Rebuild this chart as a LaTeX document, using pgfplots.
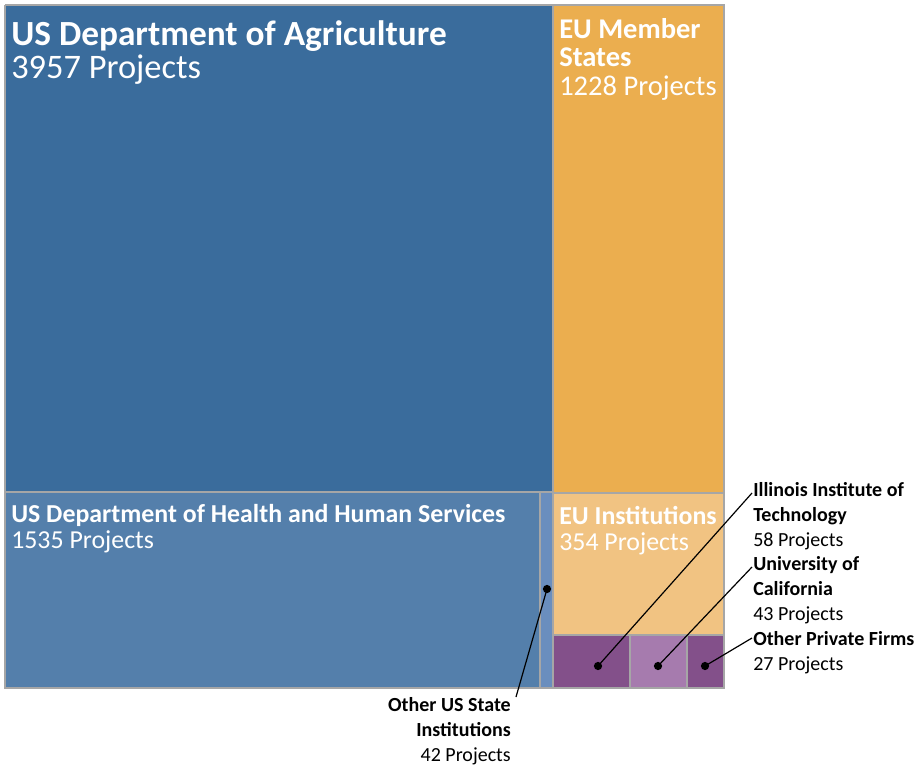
\documentclass[border=0pt]{standalone}
\usepackage{pgfplots}
\pgfplotsset{compat=1.18}
\usepackage{fontspec}
\setmainfont{Carlito}
\definecolor{usda}{RGB}{58,108,156}
\definecolor{hhs}{RGB}{84,127,171}
\definecolor{ousi}{RGB}{106,142,190}
\definecolor{eums}{RGB}{235,174,79}
\definecolor{euin}{RGB}{241,195,130}
\definecolor{iit}{RGB}{131,80,138}
\definecolor{uc}{RGB}{166,123,174}
\definecolor{opf}{RGB}{131,80,138}
\definecolor{bord}{RGB}{166,166,166}
\begin{document}
\begin{tikzpicture}
\begin{axis}[
  scale only axis, width=690.75pt, height=575.25pt,
  xmin=0, xmax=921, ymin=0, ymax=767, y dir=reverse,
  hide axis, clip=false,
  every axis plot/.append style={line join=miter},
]
% invisible frame to fix the picture size
\addplot[draw=none] coordinates {(0,0) (921,0) (921,767) (0,767) (0,0)};
% rectangles (x1,y1)-(x2,y2) in pixel space
\addplot[fill=usda, draw=bord, line width=1.1pt] coordinates {(5,5) (553,5) (553,492) (5,492) (5,5)};
\addplot[fill=eums, draw=bord, line width=1.1pt] coordinates {(553,5) (724,5) (724,493) (553,493) (553,5)};
\addplot[fill=hhs, draw=bord, line width=1.1pt] coordinates {(5,492) (540,492) (540,688) (5,688) (5,492)};
\addplot[fill=ousi, draw=bord, line width=1.1pt] coordinates {(540,492) (553,492) (553,688) (540,688) (540,492)};
\addplot[fill=euin, draw=bord, line width=1.1pt] coordinates {(553,493) (724,493) (724,635) (553,635) (553,493)};
\addplot[fill=iit, draw=bord, line width=1.1pt] coordinates {(553,635) (630,635) (630,688) (553,688) (553,635)};
\addplot[fill=uc, draw=bord, line width=1.1pt] coordinates {(630,635) (687,635) (687,688) (630,688) (630,635)};
\addplot[fill=opf, draw=bord, line width=1.1pt] coordinates {(687,635) (724,635) (724,688) (687,688) (687,635)};
% leader lines with dots
\addplot[black, line width=0.9pt, mark=*, mark size=2.6pt, mark indices={1}] coordinates {(547,589) (516,697)};
\addplot[black, line width=0.9pt, mark=*, mark size=2.6pt, mark indices={1}] coordinates {(598,666) (752,493)};
\addplot[black, line width=0.9pt, mark=*, mark size=2.6pt, mark indices={1}] coordinates {(658,666) (752,567)};
\addplot[black, line width=0.9pt, mark=*, mark size=2.6pt, mark indices={1}] coordinates {(705,666) (752,638)};
% labels inside
\node[anchor=base west, text=white, inner sep=0pt, font=\fontsize{26.5}{30}\selectfont\bfseries] at (axis cs:11,46) {US Department of Agriculture};
\node[anchor=base west, text=white, inner sep=0pt, font=\fontsize{25.8}{30}\selectfont] at (axis cs:11,79) {3957 Projects};
\node[anchor=base west, text=white, inner sep=0pt, font=\fontsize{21.4}{25}\selectfont\bfseries] at (axis cs:559,39) {EU Member};
\node[anchor=base west, text=white, inner sep=0pt, font=\fontsize{21.4}{25}\selectfont\bfseries] at (axis cs:559,67) {States};
\node[anchor=base west, text=white, inner sep=0pt, font=\fontsize{21.4}{25}\selectfont] at (axis cs:559,95) {1228 Projects};
\node[anchor=base west, text=white, inner sep=0pt, font=\fontsize{19.4}{23}\selectfont\bfseries] at (axis cs:11,522) {US Department of Health and Human Services};
\node[anchor=base west, text=white, inner sep=0pt, font=\fontsize{19.4}{23}\selectfont] at (axis cs:11,548) {1535 Projects};
\node[anchor=base west, text=white, inner sep=0pt, font=\fontsize{19.4}{23}\selectfont\bfseries] at (axis cs:559,524) {EU Institutions};
\node[anchor=base west, text=white, inner sep=0pt, font=\fontsize{19.4}{23}\selectfont] at (axis cs:559,550) {354 Projects};
% outside labels
\node[anchor=base west, inner sep=0pt, font=\fontsize{15}{18}\selectfont\bfseries] at (axis cs:753,496) {Illinois Institute of};
\node[anchor=base west, inner sep=0pt, font=\fontsize{15}{18}\selectfont\bfseries] at (axis cs:753,521) {Technology};
\node[anchor=base west, inner sep=0pt, font=\fontsize{15}{18}\selectfont] at (axis cs:753,546) {58 Projects};
\node[anchor=base west, inner sep=0pt, font=\fontsize{15}{18}\selectfont\bfseries] at (axis cs:753,570) {University of};
\node[anchor=base west, inner sep=0pt, font=\fontsize{15}{18}\selectfont\bfseries] at (axis cs:753,595) {California};
\node[anchor=base west, inner sep=0pt, font=\fontsize{15}{18}\selectfont] at (axis cs:753,620) {43 Projects};
\node[anchor=base west, inner sep=0pt, font=\fontsize{15}{18}\selectfont\bfseries] at (axis cs:753,645) {Other Private Firms};
\node[anchor=base west, inner sep=0pt, font=\fontsize{15}{18}\selectfont] at (axis cs:753,670) {27 Projects};
\node[anchor=base east, inner sep=0pt, font=\fontsize{15}{18}\selectfont\bfseries] at (axis cs:511,711) {Other US State};
\node[anchor=base east, inner sep=0pt, font=\fontsize{15}{18}\selectfont\bfseries] at (axis cs:511,736) {Institutions};
\node[anchor=base east, inner sep=0pt, font=\fontsize{15}{18}\selectfont] at (axis cs:511,761) {42 Projects};
\end{axis}
\end{tikzpicture}
\end{document}
